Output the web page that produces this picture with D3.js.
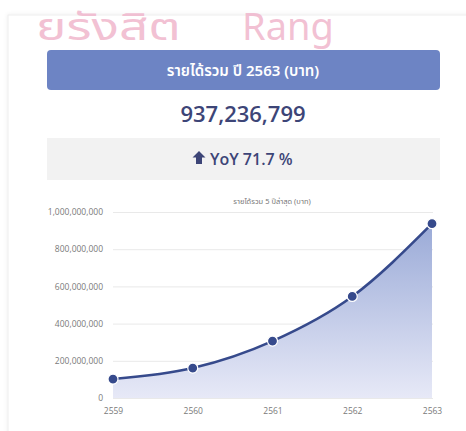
<!DOCTYPE html>
<html>
<head>
<meta charset="utf-8">
<script src="https://cdn.jsdelivr.net/npm/d3@7/dist/d3.min.js"></script>
<style>
  html, body { margin: 0; padding: 0; background: #ffffff; }
  svg { display: block; }
</style>
</head>
<body>
<div id="chart"></div>
<script>
// Revenue of the last five years (Thai Buddhist years), in baht
const years = ["2559", "2560", "2561", "2562", "2563"];
const revenue = [102000000, 161000000, 306000000, 545860000, 937236799];
const yTicks = [0, 200000000, 400000000, 600000000, 800000000, 1000000000];

const headerText = "รายได้รวม ปี 2563 (บาท)";
const totalText = "937,236,799";
const yoyText = "YoY 71.7 %";
const chartTitle = "รายได้รวม 5 ปีล่าสุด (บาท)";
const markThai = "ยรังสิต";
const markLatin = "Rang";

const W = 466, H = 431;
const thaiFont = "'Noto Sans Thai', 'Noto Sans', 'DejaVu Sans', sans-serif";
const numFont = "'Open Sans', 'Noto Sans', sans-serif";

const svg = d3.select("#chart").append("svg")
  .attr("width", W).attr("height", H);

const defs = svg.append("defs");
const shadow = defs.append("filter").attr("id", "cardShadow")
  .attr("x", "-5%").attr("y", "-5%").attr("width", "110%").attr("height", "110%");
shadow.append("feDropShadow").attr("dx", 0).attr("dy", 0)
  .attr("stdDeviation", 2).attr("flood-color", "#000").attr("flood-opacity", 0.07);

const grad = defs.append("linearGradient").attr("id", "areaFill")
  .attr("gradientUnits", "userSpaceOnUse")
  .attr("x1", 0).attr("x2", 0).attr("y1", 212).attr("y2", 398);
grad.append("stop").attr("offset", "0%").attr("stop-color", "#95a6d5");
grad.append("stop").attr("offset", "100%").attr("stop-color", "#e7e9f7");

// card
svg.append("rect")
  .attr("x", 8).attr("y", 15).attr("width", 480).attr("height", 440)
  .attr("fill", "#ffffff").attr("stroke", "#eeeeee")
  .attr("filter", "url(#cardShadow)");

// watermark across the top edge
const mark = svg.append("g")
  .attr("font-family", thaiFont)
  .attr("fill", "#f0b6cc")
  .attr("fill-opacity", 0.85);
mark.append("g").attr("transform", "translate(36,40) scale(1.35,1)")
  .append("text").attr("font-size", 38).text(markThai);
mark.append("text").attr("x", 242).attr("y", 40)
  .attr("font-size", 38).text(markLatin);

// header bar
svg.append("rect")
  .attr("x", 47).attr("y", 50).attr("width", 393).attr("height", 40)
  .attr("rx", 4).attr("fill", "#6d84c4");
svg.append("text")
  .attr("x", 243).attr("y", 76)
  .attr("text-anchor", "middle")
  .attr("font-family", thaiFont)
  .attr("font-size", 15).attr("font-weight", 600)
  .attr("fill", "#ffffff")
  .text(headerText);

// total
svg.append("text")
  .attr("x", 243).attr("y", 122)
  .attr("text-anchor", "middle")
  .attr("font-family", numFont)
  .attr("font-size", 22).attr("font-weight", 600)
  .attr("fill", "#3d4577")
  .text(totalText);

// YoY box
svg.append("rect")
  .attr("x", 47).attr("y", 138).attr("width", 393).attr("height", 42)
  .attr("fill", "#f2f2f2");
const yoy = svg.append("g").attr("fill", "#3d4577");
yoy.append("path")
  .attr("d", "M199,151 L205.5,157.5 L202,157.5 L202,164 L196,164 L196,157.5 L192.5,157.5 Z");
yoy.append("text")
  .attr("x", 210).attr("y", 165)
  .attr("font-family", numFont)
  .attr("font-size", 16).attr("font-weight", 600)
  .text(yoyText);

// chart
const x = d3.scalePoint().domain(years).range([113, 432]);
const y = d3.scaleLinear().domain([0, 1000000000]).range([398, 212]);
const fmt = d3.format(",");

svg.append("text")
  .attr("x", 272).attr("y", 204)
  .attr("text-anchor", "middle")
  .attr("font-family", thaiFont)
  .attr("font-size", 7.5)
  .attr("fill", "#777")
  .text(chartTitle);

const yAxis = svg.append("g")
  .attr("transform", "translate(113,0)")
  .call(d3.axisLeft(y).tickValues(yTicks).tickFormat(fmt).tickSize(-320).tickPadding(10));
yAxis.select(".domain").remove();
yAxis.selectAll(".tick line").attr("stroke", "#e9e9e9");
yAxis.selectAll(".tick text")
  .attr("font-family", numFont)
  .attr("font-size", 8.5).attr("fill", "#7a7a7a");

const xAxis = svg.append("g")
  .attr("transform", "translate(0,398)")
  .call(d3.axisBottom(x).tickSize(0).tickPadding(10));
xAxis.select(".domain").remove();
xAxis.selectAll(".tick text")
  .attr("font-family", numFont)
  .attr("font-size", 8.5).attr("fill", "#7a7a7a");

const series = years.map((yr, i) => ({ yr, v: revenue[i] }));
const curve = d3.curveMonotoneX;

svg.append("path").datum(series)
  .attr("fill", "url(#areaFill)")
  .attr("d", d3.area().curve(curve).x(d => x(d.yr)).y0(y(0)).y1(d => y(d.v)));

svg.append("path").datum(series)
  .attr("fill", "none").attr("stroke", "#364a8c").attr("stroke-width", 2.6)
  .attr("d", d3.line().curve(curve).x(d => x(d.yr)).y(d => y(d.v)));

svg.selectAll("circle.pt").data(series).join("circle")
  .attr("class", "pt")
  .attr("cx", d => x(d.yr)).attr("cy", d => y(d.v)).attr("r", 5)
  .attr("fill", "#364a8c").attr("stroke", "#ffffff").attr("stroke-width", 1.2);
</script>
</body>
</html>
